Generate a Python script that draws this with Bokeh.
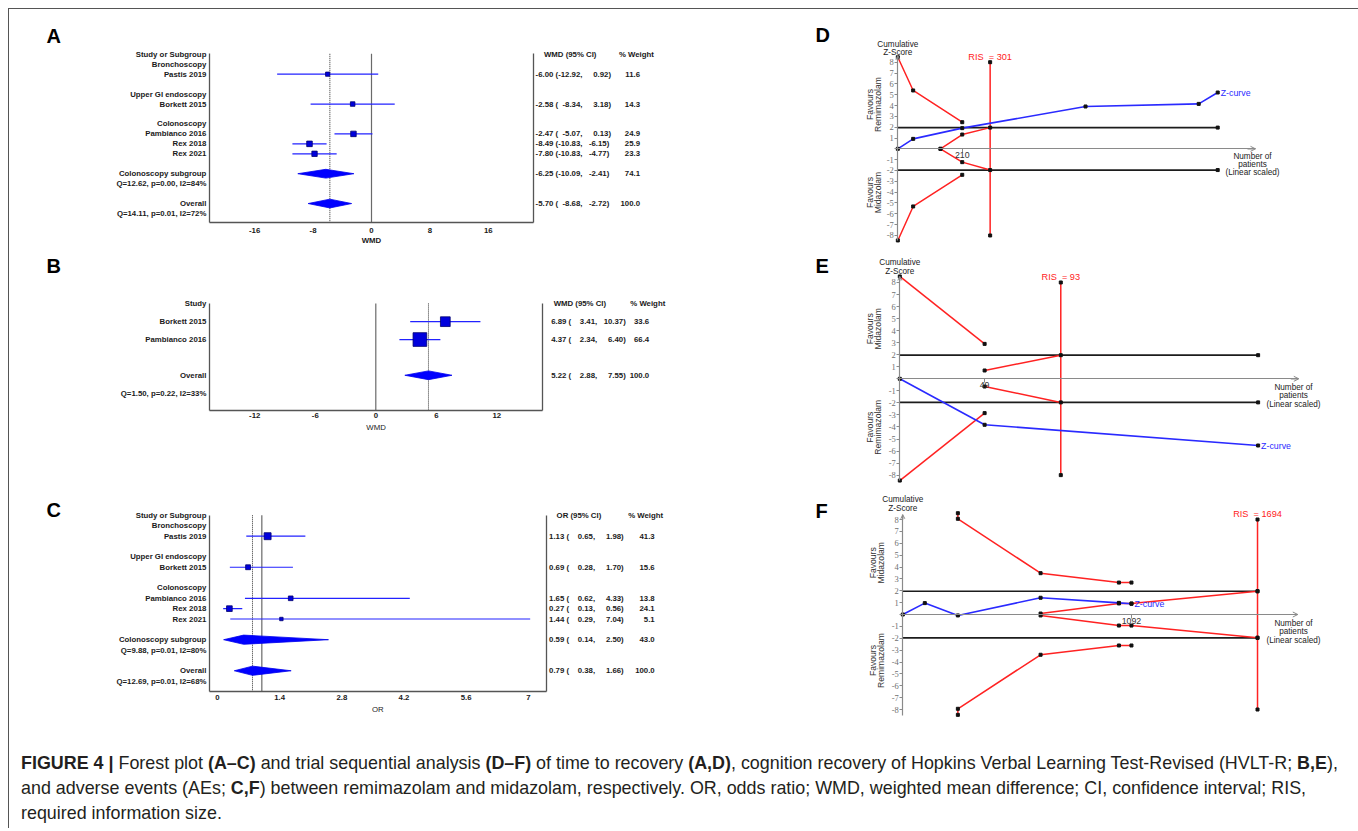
import math
from bokeh.plotting import figure
from bokeh.models import Range1d, LinearAxis, FixedTicker, Div, Arrow, OpenHead
from bokeh.layouts import column, row
from bokeh.embed import file_html
from bokeh.resources import INLINE
from bokeh.core.properties import value

# ===================== DATA =====================
# (A) time to recovery, WMD
A_groups = ["Bronchoscopy", "Upper GI endoscopy", "Colonoscopy"]
A_studies = ["Pastis 2019", "Borkett 2015", "Pambianco 2016", "Rex 2018", "Rex 2021"]
A_group_of = [0, 1, 2, 2, 2]
A_est = [-6.00, -2.58, -2.47, -8.49, -7.80]
A_lo = [-12.92, -8.34, -5.07, -10.83, -10.83]
A_hi = [0.92, 3.18, 0.13, -6.15, -4.77]
A_wt = [11.6, 14.3, 24.9, 25.9, 23.3]
A_sub_label = "Colonoscopy subgroup"
A_sub = [-6.25, -10.09, -2.41, 74.1]
A_sub_het = "Q=12.62, p=0.00, I2=84%"
A_all = [-5.70, -8.68, -2.72, 100.0]
A_all_het = "Q=14.11, p=0.01, I2=72%"
A_ticks = [-16, -8, 0, 8, 16]

# (B) HVLT-R, WMD
B_groups = [None]
B_studies = ["Borkett 2015", "Pambianco 2016"]
B_group_of = [0, 0]
B_est = [6.89, 4.37]
B_lo = [3.41, 2.34]
B_hi = [10.37, 6.40]
B_wt = [33.6, 66.4]
B_all = [5.22, 2.88, 7.55, 100.0]
B_all_het = "Q=1.50, p=0.22, I2=33%"
B_ticks = [-12, -6, 0, 6, 12]

# (C) adverse events, OR
C_groups = ["Bronchoscopy", "Upper GI endoscopy", "Colonoscopy"]
C_studies = ["Pastis 2019", "Borkett 2015", "Pambianco 2016", "Rex 2018", "Rex 2021"]
C_group_of = [0, 1, 2, 2, 2]
C_est = [1.13, 0.69, 1.65, 0.27, 1.44]
C_lo = [0.65, 0.28, 0.62, 0.13, 0.29]
C_hi = [1.98, 1.70, 4.33, 0.56, 7.04]
C_wt = [41.3, 15.6, 13.8, 24.1, 5.1]
C_sub_label = "Colonoscopy subgroup"
C_sub = [0.59, 0.14, 2.50, 43.0]
C_sub_het = "Q=9.88, p=0.01, I2=80%"
C_all = [0.79, 0.38, 1.66, 100.0]
C_all_het = "Q=12.69, p=0.01, I2=68%"
C_ticks = [0, 1.4, 2.8, 4.2, 5.6, 7]

# (D) TSA time to recovery
D_n = [0, 50, 210, 612, 981, 1043]
D_z = [0, 0.92, 1.91, 3.91, 4.15, 5.20]
D_bn = [0, 50, 210]
D_up = [8.46, 5.39, 2.46]
D_lo = [-8.46, -5.32, -2.40]
D_fn = [139, 210, 301]
D_fup = [0.0, 1.32, 1.96]
D_flo = [0.0, -1.23, -1.96]
D_ris = 301
D_end = 1043
D_tick = 210

# (E) TSA HVLT-R
E_n = [0, 49, 207]
E_z = [0, -3.82, -5.54]
E_bn = [0, 49]
E_up = [8.50, 2.90]
E_lo = [-8.45, -2.85]
E_fn = [49, 93]
E_fup = [0.69, 1.96]
E_flo = [-0.64, -1.96]
E_ris = 93
E_end = 207
E_tick = 49

# (F) TSA adverse events
F_n = [0, 105, 263, 658, 1032, 1092]
F_z = [0, 0.96, -0.08, 1.41, 0.98, 0.90]
F_bn = [263, 263, 658, 1032, 1092]
F_up = [8.53, 8.06, 3.48, 2.69, 2.69]
F_lo = [-8.45, -7.94, -3.39, -2.61, -2.61]
F_fn = [658, 1032, 1092, 1694]
F_fup = [0.08, 0.93, 0.93, 1.96]
F_flo = [-0.08, -0.93, -0.93, -1.96]
F_ris = 1694
F_end = 1694
F_tick = 1092

Z_CRIT = 1.96
RIS_SPAN = 8

# ===================== STYLE / LAYOUT =====================
SANS = "Liberation Sans"
SERIF = "Liberation Serif"
BLUE_LINE = "#2222ff"
SQ_FILL = "#0000dd"
SQ_LINE = "#00006e"
RED = "#ff2222"
ZBLUE = "#2a2aff"
AXC = "#8a8a8a"
FRAME = "#555555"

LEFT_X, LEFT_W = 9, 691
RIGHT_X, RIGHT_W = 700, 649
ROW_Y = [9, 250, 486]
ROW_H = [241, 236, 246]


class Panel:
    def __init__(self, fx, fy, w, h, ox, kx, oy, ky):
        self.ox, self.kx, self.oy, self.ky = ox, kx, oy, ky
        self.p = figure(width=w, height=h,
                        x_range=Range1d(self.X(fx), self.X(fx + w)),
                        y_range=Range1d(self.Y(fy + h), self.Y(fy)),
                        x_axis_type=None, y_axis_type=None,
                        toolbar_location=None, output_backend="svg",
                        min_border=0, outline_line_color=None,
                        background_fill_color="white", border_fill_color="white")

    def X(self, px):
        return (px - self.ox) / self.kx

    def Y(self, py):
        return (py - self.oy) / self.ky

    def text(self, x, y, s, size="7.8px", color="#1a1a1a", align="left", bold=False,
             font=SANS, angle=0.0):
        self.p.text(x=[x], y=[y], text=[s], text_font=value(font), text_font_size=size,
                    text_color=color, text_align=align, text_baseline="middle",
                    text_font_style="bold" if bold else "normal", angle=angle)


def pad6(v):
    return f"{v:6.2f}".replace(" ", "\u2007")


def forest_panel(fx, fy, w, h, L, letter, header, ci_header, groups, group_of, names,
                 est, lo, hi, wt, sub_label, sub_vals, sub_het, all_vals, all_het,
                 ticks, xlabel, xlabel_bold, ref_value):
    pan = Panel(fx, fy, w, h, L["zero"], L["ppu"], L["row0"], L["rowh"])
    p = pan.p
    labels = {0: header}
    r = 1
    study_rows = [0] * len(names)
    for gi, g in enumerate(groups):
        if g is not None:
            labels[r] = g
            r += 1
        for si in range(len(names)):
            if group_of[si] == gi:
                labels[r] = names[si]
                study_rows[si] = r
                r += 1
        r += 1
    dia_rows, dia_vals = [], []
    if sub_label:
        labels[r] = sub_label
        labels[r + 1] = sub_het
        dia_rows.append(r)
        dia_vals.append(sub_vals)
        r += 3
    labels[r] = "Overall"
    labels[r + 1] = all_het
    dia_rows.append(r)
    dia_vals.append(all_vals)

    top, bot = L["top"], L["bot"]
    p.segment(x0=[ref_value], x1=[ref_value], y0=[top], y1=[bot], line_color="#6a6a6a", line_width=1.2)
    p.segment(x0=[all_vals[0]], x1=[all_vals[0]], y0=[top], y1=[bot], line_color="#333333",
              line_width=1, line_dash="1 1")
    p.segment(x0=lo, x1=hi, y0=study_rows, y1=study_rows, line_color=BLUE_LINE, line_width=1.2)
    sizes = [L["sq_a"] + L["sq_b"] * math.sqrt(v) for v in wt]
    p.scatter(x=est, y=study_rows, size=sizes, marker="square", fill_color=SQ_FILL,
              line_color=SQ_LINE, line_width=0.8)
    hh = L["dia_px"] / L["rowh"]
    xs = [[v[1], v[0], v[2], v[0]] for v in dia_vals]
    ys = [[rr, rr - hh, rr, rr + hh] for rr in dia_rows]
    p.patches(xs=xs, ys=ys, fill_color="#0000ff", line_color="#0000ee", line_width=0.8)

    yl = LinearAxis(fixed_location=pan.X(L["fl"]), bounds=(top, bot),
                    ticker=FixedTicker(ticks=sorted(labels)), major_label_overrides=labels,
                    axis_line_color=FRAME, axis_line_width=1.3,
                    major_tick_line_color=None, major_tick_in=0, major_tick_out=0,
                    minor_tick_line_color=None, major_label_standoff=3,
                    major_label_text_font=SANS, major_label_text_font_size="7.8px",
                    major_label_text_font_style="bold", major_label_text_color="#1a1a1a")
    p.add_layout(yl, "left")
    yr = LinearAxis(fixed_location=pan.X(L["fr"]), bounds=(top, bot),
                    ticker=FixedTicker(ticks=[]), axis_line_color=FRAME, axis_line_width=1.3,
                    major_tick_line_color=None, minor_tick_line_color=None)
    p.add_layout(yr, "right")
    xa = LinearAxis(fixed_location=bot, bounds=(pan.X(L["fl"]), pan.X(L["fr"])),
                    ticker=FixedTicker(ticks=ticks),
                    major_label_overrides={t: f"{t:g}" for t in ticks},
                    axis_line_color=FRAME, axis_line_width=1.3,
                    major_tick_line_color=None, major_tick_in=0, major_tick_out=0,
                    minor_tick_line_color=None, major_label_standoff=L["xstand"],
                    major_label_text_font=SANS, major_label_text_font_size="7.8px",
                    major_label_text_font_style="bold", major_label_text_color="#1a1a1a")
    p.add_layout(xa, "below")
    pan.text(pan.X((L["fl"] + L["fr"]) / 2), pan.Y(L["xlab_py"]), xlabel, align="center",
             bold=xlabel_bold)

    pan.text(pan.X(L["h1"]), 0, ci_header, bold=True)
    pan.text(pan.X(L["h2"]), 0, "% Weight", bold=True)
    all_rows = study_rows + dia_rows
    all_e = list(est) + [v[0] for v in dia_vals]
    all_l = list(lo) + [v[1] for v in dia_vals]
    all_h = list(hi) + [v[2] for v in dia_vals]
    all_w = list(wt) + [v[3] for v in dia_vals]
    p.text(x=[pan.X(L["c1"])] * len(all_rows), y=all_rows,
           text=[f"{e:.2f} ({pad6(a)}, {pad6(b)})" for e, a, b in zip(all_e, all_l, all_h)],
           text_font=value(SANS), text_font_size="7.8px", text_font_style="bold",
           text_color="#1a1a1a", text_align="left", text_baseline="middle")
    p.text(x=[pan.X(L["wr"])] * len(all_rows), y=all_rows, text=[f"{v:.1f}" for v in all_w],
           text_font=value(SANS), text_font_size="7.8px", text_font_style="bold",
           text_color="#1a1a1a", text_align="right", text_baseline="middle")
    pan.text(pan.X(46), pan.Y(L["letter_py"]), letter, size="20px", color="#000", bold=True)
    return p


def tsa_panel(fx, fy, w, h, T, letter, zn, z, bn, up, lo, fn, fup, flo, ris, line_end, tick,
              fav_up, fav_lo):
    pan = Panel(fx, fy, w, h, T["n0"], T["sx"], T["z0"], -T["sz"])
    p = pan.p
    ylo, yhi = T["ybounds"]
    zt = list(range(-8, 9))
    ya = LinearAxis(fixed_location=0, bounds=(ylo, yhi), ticker=FixedTicker(ticks=zt),
                    major_label_overrides={t: (str(t) if t != 0 else "") for t in zt},
                    axis_line_color=AXC, axis_line_width=1.2, major_tick_line_color=AXC,
                    major_tick_out=3, major_tick_in=0, minor_tick_line_color=None,
                    major_label_standoff=1, major_label_text_font=SERIF,
                    major_label_text_font_size="8.5px", major_label_text_color="#707070")
    p.add_layout(ya, "left")
    xa = LinearAxis(fixed_location=0, bounds=(0, pan.X(T["tip"])),
                    ticker=FixedTicker(ticks=[tick]), major_label_overrides={tick: str(tick)},
                    axis_line_color=AXC, axis_line_width=1.2, major_tick_line_color=AXC,
                    major_tick_out=4, major_tick_in=0, minor_tick_line_color=None,
                    major_label_standoff=-1, major_label_text_font=SANS,
                    major_label_text_font_size="8.8px", major_label_text_color="#333333")
    p.add_layout(xa, "below")
    p.add_layout(Arrow(end=OpenHead(size=5, line_color=AXC, line_width=1),
                       x_start=pan.X(T["tip"] - 8), y_start=0, x_end=pan.X(T["tip"]), y_end=0,
                       line_color=AXC, line_width=1.2))
    p.add_layout(Arrow(end=OpenHead(size=4, line_color=AXC, line_width=1),
                       x_start=0, y_start=yhi - 0.4, x_end=0, y_end=yhi,
                       line_color=AXC, line_width=1.2))

    p.segment(x0=[0, 0], x1=[line_end, line_end], y0=[Z_CRIT, -Z_CRIT], y1=[Z_CRIT, -Z_CRIT],
              line_color="#1c1c1c", line_width=1.7)
    p.line(bn, up, line_color=RED, line_width=1.5)
    p.line(bn, lo, line_color=RED, line_width=1.5)
    p.line(fn, fup, line_color=RED, line_width=1.5)
    p.line(fn, flo, line_color=RED, line_width=1.5)
    p.segment(x0=[ris], x1=[ris], y0=[-RIS_SPAN], y1=[RIS_SPAN], line_color=RED, line_width=1.5)
    p.line(zn, z, line_color=ZBLUE, line_width=1.6)
    mx = list(zn) + list(bn) + list(bn) + list(fn) + list(fn) + [ris, ris, line_end, line_end]
    my = list(z) + list(up) + list(lo) + list(fup) + list(flo) + [RIS_SPAN, -RIS_SPAN, Z_CRIT, -Z_CRIT]
    p.scatter(x=mx, y=my, marker="square", size=3, fill_color="#111111", line_color="#111111")

    pan.text(0, pan.Y(T["cum_py"][0]), "Cumulative", size="8.2px", color="#222", align="center")
    pan.text(0, pan.Y(T["cum_py"][1]), "Z-Score", size="8.2px", color="#222", align="center")
    fx1, fx2 = T["fav_x"]
    fs = "8.6px"
    pan.text(pan.X(fx1), pan.Y(T["fav_py"][0]), fav_up[0], size=fs, color="#333", align="center", angle=math.pi / 2)
    pan.text(pan.X(fx2), pan.Y(T["fav_py"][0]), fav_up[1], size=fs, color="#333", align="center", angle=math.pi / 2)
    pan.text(pan.X(fx1), pan.Y(T["fav_py"][1]), fav_lo[0], size=fs, color="#333", align="center", angle=math.pi / 2)
    pan.text(pan.X(fx2), pan.Y(T["fav_py"][1]), fav_lo[1], size=fs, color="#333", align="center", angle=math.pi / 2)
    for s, py in zip(["Number of", "patients", "(Linear scaled)"], T["num_py"]):
        pan.text(pan.X(T["num_x"]), pan.Y(py), s, size="8.2px", color="#222", align="center")
    pan.text(ris, pan.Y(T["ris_py"]), f"RIS\u00a0\u00a0= {ris}", size="9.2px", color=RED, align="center")
    pan.text(zn[-1] + 3 / T["sx"], z[-1], "Z-curve", size="8.8px", color=ZBLUE, align="left")
    pan.text(pan.X(815), pan.Y(T["letter_py"]), letter, size="20px", color="#000", bold=True)
    return p


LA = dict(zero=371.0, ppu=7.303, row0=53.8, rowh=9.95, fl=208.9, fr=533.0, top=-0.05, bot=16.93,
          xstand=5, xlab_py=240.0, h1=543.5, h2=618.4, c1=535.1, wr=639.5, letter_py=35,
          sq_a=1.5, sq_b=0.8, dia_px=4.4)
LB = dict(zero=375.3, ppu=10.09, row0=303.3, rowh=17.87, fl=208.9, fr=542.3, top=-0.02, bot=5.97,
          xstand=3, xlab_py=426.7, h1=553.2, h2=629.8, c1=550.7, wr=648.7, letter_py=265,
          sq_a=0.0, sq_b=1.68, dia_px=4.4)
LC = dict(zero=216.9, ppu=44.43, row0=515.0, rowh=10.35, fl=208.9, fr=545.6, top=-0.02, bot=16.98,
          xstand=4, xlab_py=709.0, h1=556.1, h2=627.7, c1=548.6, wr=654.2, letter_py=509,
          sq_a=1.5, sq_b=0.85, dia_px=4.6)

TD = dict(n0=897.33, sx=0.3067, z0=148.33, sz=10.83, tip=1255, ybounds=(-8.5, 8.6),
          cum_py=(44.2, 51.8), fav_x=(869.3, 877.3), fav_py=(104, 192), num_x=1252,
          num_py=(156, 164, 172), ris_py=56.7, letter_py=34.5)
TE = dict(n0=899.3, sx=1.731, z0=378.3, sz=12.04, tip=1298.3, ybounds=(-8.45, 8.5),
          cum_py=(262.3, 270.7), fav_x=(869.3, 877.3), fav_py=(328.3, 426.7), num_x=1293,
          num_py=(386.7, 395.4, 404.1), ris_py=276, letter_py=265)
TF = dict(n0=902.3, sx=0.2094, z0=614.0, sz=11.875, tip=1297.3, ybounds=(-8.5, 8.4),
          cum_py=(499.3, 507.7), fav_x=(872.7, 880.7), fav_py=(562.3, 660), num_x=1293,
          num_py=(622.7, 631.2, 639.7), ris_py=513.3, letter_py=510)

pA = forest_panel(LEFT_X, ROW_Y[0], LEFT_W, ROW_H[0], LA, "A", "Study or Subgroup", "WMD (95% CI)",
                  A_groups, A_group_of, A_studies, A_est, A_lo, A_hi, A_wt,
                  A_sub_label, A_sub, A_sub_het, A_all, A_all_het, A_ticks, "WMD", True, 0)
pB = forest_panel(LEFT_X, ROW_Y[1], LEFT_W, ROW_H[1], LB, "B", "Study", "WMD (95% CI)",
                  B_groups, B_group_of, B_studies, B_est, B_lo, B_hi, B_wt,
                  None, None, None, B_all, B_all_het, B_ticks, "WMD", False, 0)
pC = forest_panel(LEFT_X, ROW_Y[2], LEFT_W, ROW_H[2], LC, "C", "Study or Subgroup", "OR (95% CI)",
                  C_groups, C_group_of, C_studies, C_est, C_lo, C_hi, C_wt,
                  C_sub_label, C_sub, C_sub_het, C_all, C_all_het, C_ticks, "OR", False, 1)

pD = tsa_panel(RIGHT_X, ROW_Y[0], RIGHT_W, ROW_H[0], TD, "D", D_n, D_z, D_bn, D_up, D_lo,
               D_fn, D_fup, D_flo, D_ris, D_end, D_tick,
               ("Favours", "Remimazolam"), ("Favours", "Midazolam"))
pE = tsa_panel(RIGHT_X, ROW_Y[1], RIGHT_W, ROW_H[1], TE, "E", E_n, E_z, E_bn, E_up, E_lo,
               E_fn, E_fup, E_flo, E_ris, E_end, E_tick,
               ("Favours", "Midazolam"), ("Favours", "Remimazolam"))
pF = tsa_panel(RIGHT_X, ROW_Y[2], RIGHT_W, ROW_H[2], TF, "F", F_n, F_z, F_bn, F_up, F_lo,
               F_fn, F_fup, F_flo, F_ris, F_end, F_tick,
               ("Favours", "Midazolam"), ("Favours", "Remimazolam"))

caption_html = (
    '<div style="margin:0;padding:14px 0 0 7px;font-family:\'Liberation Sans\',Arial,sans-serif;'
    'font-size:17.9px;line-height:25px;color:#231f20;white-space:nowrap;">'
    '<b>FIGURE 4 |</b> Forest plot <b>(A\u2013C)</b> and trial sequential analysis <b>(D\u2013F)</b> '
    'of time to recovery <b>(A,D)</b>, cognition recovery of Hopkins Verbal Learning Test-Revised '
    '(HVLT-R; <b>B,E</b>),<br>'
    'and adverse events (AEs; <b>C,F</b>) between remimazolam and midazolam, respectively. OR, odds '
    'ratio; WMD, weighted mean difference; CI, confidence interval; RIS,<br>'
    'required information size.</div>'
)
cap = Div(text=caption_html, width=LEFT_W + RIGHT_W, height=86)

root = column(row(column(pA, pB, pC), column(pD, pE, pF)), cap,
              margin=(8, 0, 0, 8),
              styles={"border-top": "1px solid #555", "border-left": "1px solid #555",
                      "border-right": "1px solid #555"})

open("out.html", "w").write(file_html(root, INLINE))
